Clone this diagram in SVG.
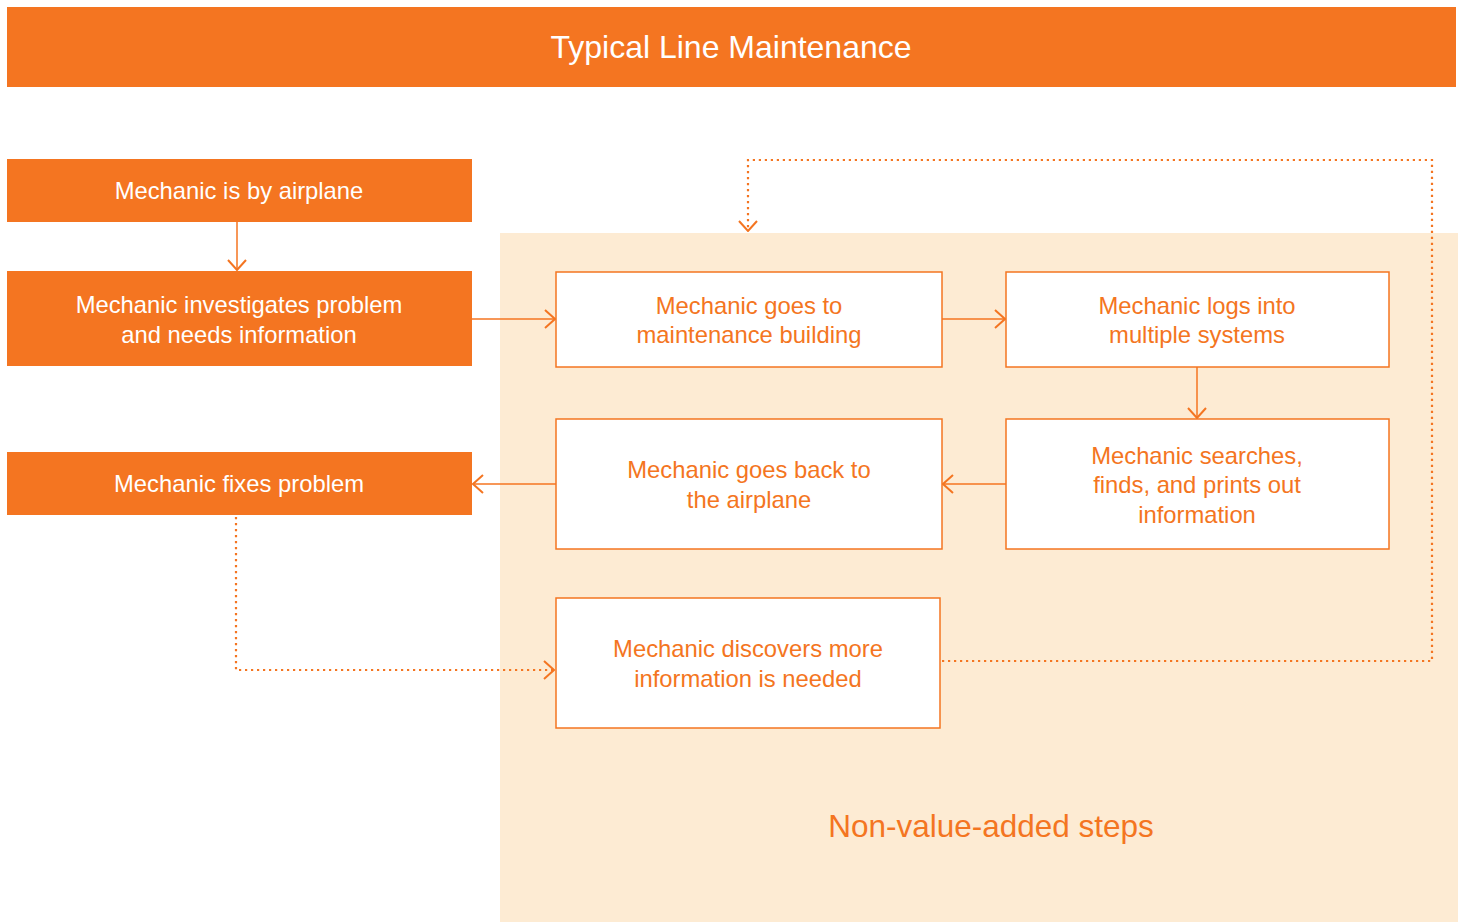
<svg xmlns="http://www.w3.org/2000/svg" width="1465" height="922" viewBox="0 0 1465 922">
<defs>
<style>
.solid{fill:#f47521}
.wbox{fill:#ffffff;stroke:#f47521;stroke-width:1.5}
.tw{fill:#ffffff;font-family:"Liberation Sans",Arial,sans-serif;font-size:23.8px;text-anchor:middle}
.to{fill:#f47521;font-family:"Liberation Sans",Arial,sans-serif;font-size:23.8px;text-anchor:middle}
.line{fill:none;stroke:#f47521;stroke-width:1.5}
.dot{fill:none;stroke:#f47521;stroke-width:2.2;stroke-dasharray:2.2 3.8}
</style>
<marker id="arr" viewBox="0 0 12 20" refX="11" refY="10" markerWidth="12" markerHeight="20" markerUnits="userSpaceOnUse" orient="auto">
<path d="M1,1 L11,10 L1,19" fill="none" stroke="#f47521" stroke-width="2"/>
</marker>
</defs>
<rect width="1465" height="922" fill="#ffffff"/>
<g id="header">
<rect class="solid" x="7" y="7" width="1449" height="80"/>
<text x="731" y="58" fill="#ffffff" font-family="Liberation Sans,Arial,sans-serif" font-size="32" text-anchor="middle">Typical Line Maintenance</text>
</g>
<g id="region">
<rect x="500" y="233" width="958" height="689" fill="#fdebd3"/>
<text x="991" y="837" fill="#f47521" font-family="Liberation Sans,Arial,sans-serif" font-size="31.5" text-anchor="middle">Non-value-added steps</text>
</g>
<g id="n1">
<rect class="solid" x="7" y="159" width="465" height="63"/>
<text class="tw" x="239" y="199">Mechanic is by airplane</text>
</g>
<g id="n2">
<rect class="solid" x="7" y="271" width="465" height="95"/>
<text class="tw" x="239" y="313">Mechanic investigates problem</text>
<text class="tw" x="239" y="343">and needs information</text>
</g>
<g id="n3">
<rect class="solid" x="7" y="452" width="465" height="63"/>
<text class="tw" x="239" y="492">Mechanic fixes problem</text>
</g>
<g id="b1">
<rect class="wbox" x="556" y="272" width="386" height="95"/>
<text class="to" x="749" y="314">Mechanic goes to</text>
<text class="to" x="749" y="343">maintenance building</text>
</g>
<g id="b2">
<rect class="wbox" x="1006" y="272" width="383" height="95"/>
<text class="to" x="1197" y="314">Mechanic logs into</text>
<text class="to" x="1197" y="343">multiple systems</text>
</g>
<g id="b3">
<rect class="wbox" x="556" y="419" width="386" height="130"/>
<text class="to" x="749" y="478">Mechanic goes back to</text>
<text class="to" x="749" y="508">the airplane</text>
</g>
<g id="b4">
<rect class="wbox" x="1006" y="419" width="383" height="130"/>
<text class="to" x="1197" y="464">Mechanic searches,</text>
<text class="to" x="1197" y="493">finds, and prints out</text>
<text class="to" x="1197" y="523">information</text>
</g>
<g id="b5">
<rect class="wbox" x="556" y="598" width="384" height="130"/>
<text class="to" x="748" y="657">Mechanic discovers more</text>
<text class="to" x="748" y="687">information is needed</text>
</g>
<g id="connectors">
<line class="line" x1="237" y1="222" x2="237" y2="270" marker-end="url(#arr)"/>
<line class="line" x1="472" y1="319" x2="555" y2="319" marker-end="url(#arr)"/>
<line class="line" x1="942" y1="319" x2="1005" y2="319" marker-end="url(#arr)"/>
<line class="line" x1="1197" y1="367" x2="1197" y2="418" marker-end="url(#arr)"/>
<line class="line" x1="1006" y1="484" x2="943" y2="484" marker-end="url(#arr)"/>
<line class="line" x1="556" y1="484" x2="473" y2="484" marker-end="url(#arr)"/>
<path class="dot" d="M236,517 L236,670 L554,670" marker-end="url(#arr)"/>
<path class="dot" d="M942,661 L1432,661 L1432,160 L748,160 L748,231" marker-end="url(#arr)"/>
</g>
</svg>
